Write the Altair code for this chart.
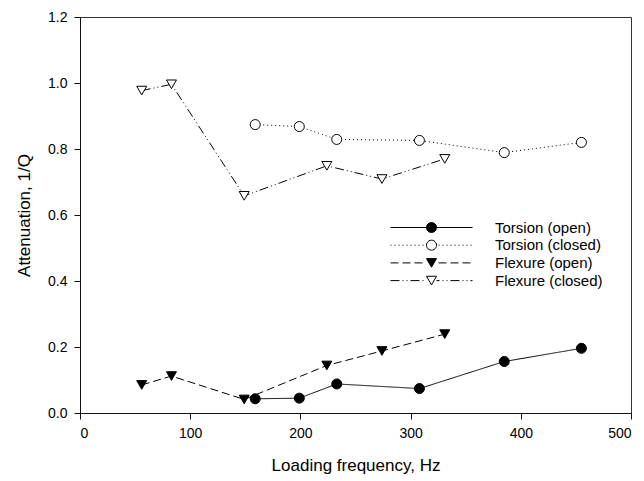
import math
import altair as alt
import pandas as pd

# ---- data ----
series_names = ["Torsion (open)", "Torsion (closed)", "Flexure (open)", "Flexure (closed)"]
torsion_freq = [159, 199, 233, 308, 385, 455]
torsion_open = [0.043, 0.045, 0.088, 0.074, 0.156, 0.196]
torsion_closed = [0.874, 0.868, 0.829, 0.826, 0.789, 0.820]
flexure_freq = [56, 83, 149, 224, 274, 331]
flexure_open = [0.085, 0.112, 0.041, 0.144, 0.188, 0.239]
flexure_closed = [0.977, 0.996, 0.658, 0.749, 0.709, 0.770]
x_ticks = [0, 100, 200, 300, 400, 500]
y_ticks = [0.0, 0.2, 0.4, 0.6, 0.8, 1.0, 1.2]

rows = []
for name, fr, vals in [
    (series_names[0], torsion_freq, torsion_open),
    (series_names[1], torsion_freq, torsion_closed),
    (series_names[2], flexure_freq, flexure_open),
    (series_names[3], flexure_freq, flexure_closed),
]:
    for f, v in zip(fr, vals):
        rows.append({"series": name, "freq": f, "atten": v})
df = pd.DataFrame(rows)

FONT = "Liberation Sans"

# ---- legend symbols: line with dash pattern + marker, as custom SVG paths ----
HALF = 41.0  # half symbol width in px (symbol spans -1..1)
SYM_SIZE = (2 * HALF) ** 2


def dashed_line(pattern, gap):
    parts = []
    x = -HALF
    i = 0
    on = True
    while x < HALF - 1e-9:
        seg = pattern[i % len(pattern)]
        x2 = min(x + seg, HALF)
        if on:
            a, b = x, x2
            for lo, hi in ((a, min(b, -gap)), (max(a, gap), b)):
                if hi > lo:
                    parts.append(f"M{lo / HALF:.4f},0L{hi / HALF:.4f},0")
        x = x2
        on = not on
        i += 1
    return "".join(parts)


def circle_path(r_px, n=24):
    r = r_px / HALF
    pts = [(r * math.cos(2 * math.pi * k / n), r * math.sin(2 * math.pi * k / n)) for k in range(n)]
    s = f"M{pts[0][0]:.4f},{pts[0][1]:.4f}"
    for px, py in pts[1:]:
        s += f"L{px:.4f},{py:.4f}"
    return s + "Z"


def tri_down_path(half_w_px, half_h_px):
    w = half_w_px / HALF
    h = half_h_px / HALF
    return f"M{-w:.4f},{-h:.4f}L{w:.4f},{-h:.4f}L0,{h:.4f}Z"


dash_dot = [1, 3]
dash_dash = [8, 4]
dash_dashdotdot = [9, 3, 1, 3, 1, 3]

legend_paths = [
    dashed_line([1000], 5) + circle_path(5),
    dashed_line(dash_dot, 5) + circle_path(5),
    dashed_line(dash_dash, 5) + tri_down_path(5, 4.33),
    dashed_line(dash_dashdotdot, 5) + tri_down_path(5, 4.33),
]

x_enc = alt.X(
    "freq:Q",
    scale=alt.Scale(domain=[0, 500], nice=False, zero=False),
    axis=alt.Axis(values=x_ticks, title="Loading frequency, Hz", format="d"),
)
y_enc = alt.Y(
    "atten:Q",
    scale=alt.Scale(domain=[0, 1.2], nice=False),
    axis=alt.Axis(values=y_ticks, title="Attenuation, 1/Q", format=".1f"),
)

lines = alt.Chart(df).mark_line(color="black", strokeWidth=1).encode(
    x=x_enc,
    y=y_enc,
    detail="series:N",
    strokeDash=alt.StrokeDash(
        "series:N",
        scale=alt.Scale(domain=series_names,
                        range=[[1, 0], dash_dot, dash_dash, dash_dashdotdot]),
        legend=None,
    ),
)

markers = alt.Chart(df).mark_point(filled=True, stroke="black", strokeWidth=1, size=100, opacity=1).encode(
    x=x_enc,
    y=y_enc,
    shape=alt.Shape(
        "series:N",
        scale=alt.Scale(domain=series_names,
                        range=["circle", "circle", "triangle-down", "triangle-down"]),
        legend=None,
    ),
    fill=alt.Fill(
        "series:N",
        scale=alt.Scale(domain=series_names, range=["black", "white", "black", "white"]),
        legend=None,
    ),
)

legend_props = dict(
    title=None,
    orient="none",
    legendX=310,
    legendY=203,
    symbolSize=SYM_SIZE,
    symbolOpacity=1,
    symbolStrokeColor="black",
    symbolStrokeWidth=1,
    labelFont=FONT,
    labelFontSize=15,
    labelColor="black",
    labelOffset=22,
    rowPadding=1.7,
    clipHeight=15,
    padding=0,
)

# legend-only layer: draws no marks (filtered out), only supplies the legend
legend_layer = alt.Chart(df).transform_filter("datum.freq < 0").mark_point(
    filled=True, strokeWidth=1
).encode(
    x=x_enc,
    y=y_enc,
    shape=alt.Shape(
        "series:N",
        scale=alt.Scale(domain=series_names, range=legend_paths),
        legend=alt.Legend(**legend_props),
    ),
    fill=alt.Fill(
        "series:N",
        scale=alt.Scale(domain=series_names, range=["black", "white", "black", "white"]),
        legend=alt.Legend(**legend_props),
    ),
    stroke=alt.Stroke(
        "series:N",
        scale=alt.Scale(domain=series_names, range=["black", "black", "black", "black"]),
        legend=alt.Legend(**legend_props),
    ),
)

chart = (
    alt.layer(lines, markers, legend_layer)
    .resolve_scale(shape="independent", fill="independent", stroke="independent")
    .properties(
        width=551,
        height=396,
        autosize=alt.AutoSizeParams(type="none"),
        padding={"left": 80, "top": 17, "right": 13, "bottom": 68},
        background="white",
    )
    .configure_view(stroke="#333", strokeWidth=1)
    .configure_axis(
        grid=False,
        domainColor="#111",
        domainWidth=1,
        tickColor="#111",
        tickSize=6,
        tickWidth=1,
        labelFont=FONT,
        labelFontSize=14,
        labelColor="black",
        labelPadding=7,
        titleFont=FONT,
        titleFontSize=17,
        titleFontWeight="normal",
        titleColor="black",
    )
    .configure_axisX(titlePadding=17)
    .configure_axisY(titlePadding=14)
)

chart.save("out.html", embed_options={"renderer": "svg", "actions": False})
